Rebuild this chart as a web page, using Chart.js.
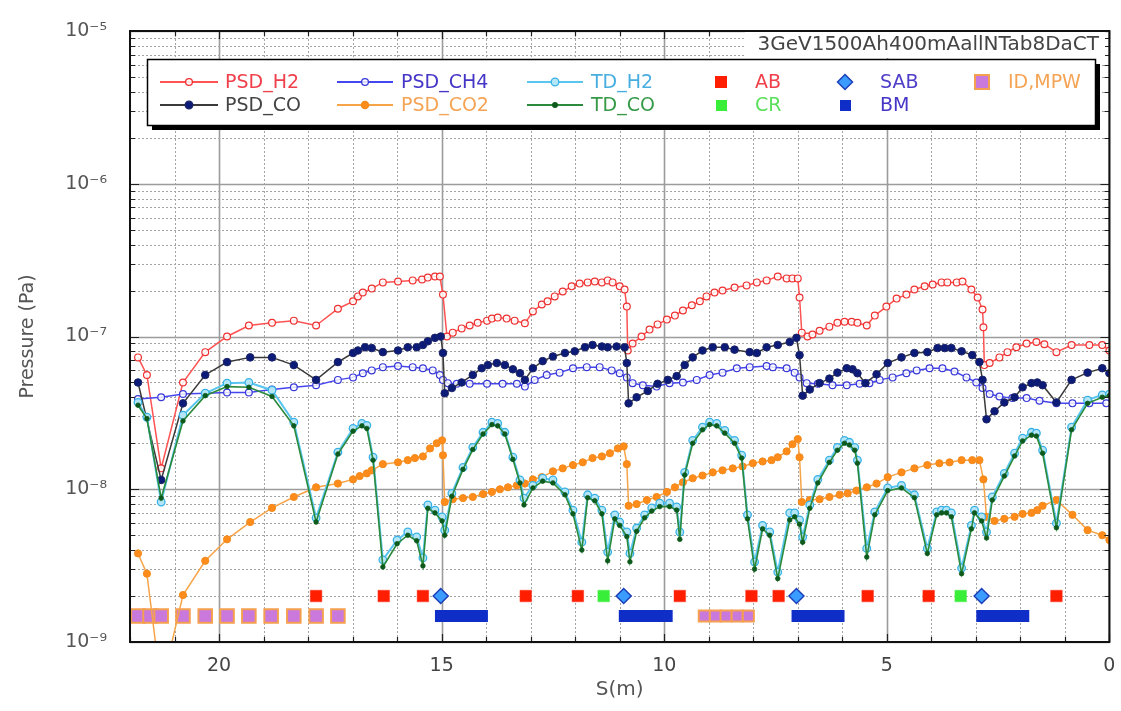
<!DOCTYPE html>
<html><head><meta charset="utf-8">
<script src="https://cdn.jsdelivr.net/npm/chart.js@4.4.0/dist/chart.umd.min.js"></script>
<style>html,body{margin:0;padding:0;background:#fff}#wrap{width:1121px;height:711px;position:relative}</style>
</head><body><div id="wrap"><canvas id="c" width="1121" height="711"></canvas></div>
<script>
// ---------------- DATA ----------------
const chartTitle = '3GeV1500Ah400mAallNTab8DaCT';
const xTickValues = [0, 5, 10, 15, 20];
const xTickLabels = ['0', '5', '10', '15', '20'];
const yTickValues = [1e-9, 1e-8, 1e-7, 1e-6, 1e-5];
const yTickLabels = ['10\u207B\u2079', '10\u207B\u2078', '10\u207B\u2077', '10\u207B\u2076', '10\u207B\u2075'];

const h2S = [21.82,21.62,21.30,20.81,20.31,19.82,19.33,18.81,18.32,17.82,17.33,16.99,16.88,16.77,16.57,16.32,15.98,15.65,15.44,15.31,15.15,15.04,14.97,14.88,14.75,14.55,14.37,14.19,13.98,13.87,13.74,13.54,13.36,13.13,12.95,12.75,12.62,12.46,12.28,12.08,11.90,11.72,11.56,11.40,11.27,11.16,11.00,10.89,10.84,10.82,10.71,10.51,10.33,10.15,9.94,9.76,9.58,9.38,9.20,9.05,8.87,8.69,8.42,8.15,7.92,7.70,7.45,7.25,7.12,7.00,6.96,6.91,6.78,6.67,6.51,6.29,6.11,5.95,5.79,5.66,5.45,5.27,5.01,4.78,4.56,4.38,4.15,3.97,3.77,3.64,3.43,3.30,3.10,2.96,2.85,2.83,2.81,2.69,2.47,2.29,2.09,1.86,1.64,1.46,1.19,0.85,0.45,0.16,0.0];
const h2P = [7.3e-8,5.6e-8,1.37e-8,5.0e-8,7.9e-8,1.0e-7,1.18e-7,1.23e-7,1.27e-7,1.18e-7,1.52e-7,1.70e-7,1.83e-7,1.94e-7,2.06e-7,2.26e-7,2.29e-7,2.33e-7,2.36e-7,2.43e-7,2.47e-7,2.47e-7,1.88e-7,1.0e-7,1.06e-7,1.13e-7,1.18e-7,1.23e-7,1.27e-7,1.31e-7,1.33e-7,1.31e-7,1.27e-7,1.22e-7,1.46e-7,1.62e-7,1.70e-7,1.83e-7,1.97e-7,2.13e-7,2.22e-7,2.26e-7,2.29e-7,2.26e-7,2.33e-7,2.26e-7,2.13e-7,2.03e-7,1.57e-7,8.1e-8,9.0e-8,1.0e-7,1.11e-7,1.20e-7,1.29e-7,1.37e-7,1.48e-7,1.60e-7,1.70e-7,1.83e-7,1.94e-7,2.00e-7,2.09e-7,2.16e-7,2.26e-7,2.33e-7,2.47e-7,2.40e-7,2.40e-7,2.40e-7,1.80e-7,1.06e-7,1.0e-7,1.03e-7,1.09e-7,1.16e-7,1.23e-7,1.25e-7,1.25e-7,1.23e-7,1.18e-7,1.37e-7,1.57e-7,1.77e-7,1.88e-7,2.03e-7,2.13e-7,2.19e-7,2.26e-7,2.26e-7,2.26e-7,2.29e-7,2.03e-7,1.80e-7,1.50e-7,1.15e-7,6.5e-8,6.7e-8,7.3e-8,7.9e-8,8.5e-8,9.0e-8,9.2e-8,8.9e-8,7.9e-8,8.8e-8,8.8e-8,8.8e-8,8.1e-8];

const coS = [21.82,21.30,20.81,20.31,19.82,19.30,18.81,18.32,17.82,17.33,16.99,16.88,16.72,16.57,16.32,15.98,15.76,15.56,15.42,15.31,15.15,15.02,14.97,14.93,14.77,14.55,14.30,14.10,13.96,13.76,13.58,13.40,13.24,13.13,12.95,12.73,12.50,12.23,12.01,11.78,11.61,11.40,11.27,11.07,10.89,10.84,10.80,10.62,10.37,10.15,9.92,9.72,9.54,9.36,9.14,8.91,8.64,8.42,8.08,7.92,7.70,7.45,7.18,7.03,6.96,6.89,6.73,6.51,6.29,6.11,5.90,5.77,5.66,5.48,5.23,4.98,4.67,4.38,4.09,3.86,3.70,3.55,3.32,3.08,2.92,2.85,2.76,2.58,2.36,2.13,1.95,1.75,1.62,1.50,1.19,0.85,0.49,0.16,0.0];
const coP = [5.0e-8,1.15e-8,3.65e-8,5.6e-8,6.8e-8,7.3e-8,7.3e-8,6.5e-8,5.2e-8,6.8e-8,7.8e-8,8.1e-8,8.5e-8,8.4e-8,7.9e-8,8.1e-8,8.5e-8,8.5e-8,8.8e-8,9.3e-8,9.8e-8,1.0e-7,7.8e-8,4.25e-8,4.6e-8,5.0e-8,5.6e-8,6.2e-8,6.5e-8,6.7e-8,6.5e-8,6.1e-8,5.75e-8,5.2e-8,6.2e-8,6.9e-8,7.4e-8,7.8e-8,8.0e-8,8.5e-8,8.8e-8,8.6e-8,8.5e-8,8.6e-8,8.5e-8,6.7e-8,3.65e-8,4.0e-8,4.4e-8,4.9e-8,5.2e-8,5.5e-8,6.5e-8,7.3e-8,8.1e-8,8.5e-8,8.5e-8,8.2e-8,7.9e-8,7.8e-8,8.5e-8,8.8e-8,9.2e-8,9.8e-8,7.55e-8,4.1e-8,4.5e-8,4.95e-8,5.3e-8,5.8e-8,6.2e-8,6.1e-8,5.75e-8,4.95e-8,5.65e-8,6.7e-8,7.3e-8,7.8e-8,7.9e-8,8.4e-8,8.4e-8,8.4e-8,8.0e-8,7.55e-8,6.8e-8,5.2e-8,2.87e-8,3.24e-8,3.7e-8,4.0e-8,4.65e-8,4.95e-8,5.0e-8,4.8e-8,3.7e-8,5.2e-8,5.8e-8,6.2e-8,5.75e-8];

const ch4S = [21.82,21.30,20.81,20.31,19.82,19.33,18.81,18.32,17.82,17.33,16.99,16.77,16.57,16.32,15.98,15.65,15.42,15.20,15.04,14.97,14.86,14.66,14.37,13.98,13.63,13.31,13.13,12.91,12.64,12.35,12.05,11.74,11.45,11.18,11.00,10.84,10.71,10.48,10.17,9.88,9.58,9.27,8.98,8.69,8.37,8.08,7.70,7.56,7.25,7.07,6.96,6.80,6.55,6.22,5.90,5.61,5.39,5.16,4.87,4.56,4.33,4.04,3.75,3.48,3.21,2.99,2.85,2.69,2.47,2.18,1.86,1.57,1.19,0.83,0.45,0.07];
const ch4P = [3.9e-8,4.0e-8,4.2e-8,4.25e-8,4.3e-8,4.3e-8,4.5e-8,4.65e-8,4.8e-8,5.2e-8,5.4e-8,5.75e-8,6.0e-8,6.3e-8,6.4e-8,6.3e-8,6.2e-8,6.0e-8,5.6e-8,5.2e-8,4.95e-8,4.9e-8,4.9e-8,4.9e-8,4.9e-8,4.9e-8,4.7e-8,5.2e-8,5.6e-8,5.8e-8,6.2e-8,6.3e-8,6.3e-8,6.0e-8,5.75e-8,5.4e-8,4.95e-8,4.8e-8,4.7e-8,4.95e-8,5.0e-8,5.2e-8,5.6e-8,5.8e-8,6.2e-8,6.3e-8,6.4e-8,6.3e-8,6.2e-8,5.8e-8,5.4e-8,4.95e-8,4.9e-8,4.8e-8,4.8e-8,4.9e-8,4.95e-8,5.2e-8,5.4e-8,5.75e-8,6.0e-8,6.2e-8,6.2e-8,5.9e-8,5.4e-8,5.0e-8,4.6e-8,4.2e-8,4.05e-8,3.95e-8,3.95e-8,3.8e-8,3.65e-8,3.65e-8,3.65e-8,3.65e-8];

const co2S = [21.82,21.62,21.30,20.81,20.31,19.82,19.30,18.81,18.32,17.82,17.33,16.99,16.84,16.68,16.57,16.32,15.98,15.76,15.60,15.42,15.26,15.11,14.99,14.97,14.93,14.75,14.52,14.30,14.07,13.87,13.69,13.51,13.31,13.13,12.95,12.75,12.50,12.28,12.05,11.83,11.61,11.40,11.22,11.04,10.91,10.84,10.80,10.62,10.39,10.17,9.94,9.76,9.58,9.36,9.14,8.91,8.69,8.46,8.24,8.01,7.79,7.59,7.45,7.25,7.12,7.00,6.96,6.91,6.73,6.51,6.29,6.06,5.88,5.68,5.45,5.23,4.98,4.67,4.38,4.09,3.82,3.59,3.32,3.08,2.92,2.83,2.76,2.58,2.36,2.13,1.95,1.75,1.62,1.50,1.19,0.83,0.49,0.16,0.0];
const co2P = [3.8e-9,2.8e-9,5e-10,2.03e-9,3.4e-9,4.7e-9,6.1e-9,7.55e-9,8.9e-9,1.03e-8,1.09e-8,1.16e-8,1.22e-8,1.27e-8,1.33e-8,1.46e-8,1.50e-8,1.55e-8,1.6e-8,1.64e-8,1.85e-8,2.0e-8,2.09e-8,1.67e-8,8.25e-9,8.6e-9,8.75e-9,8.9e-9,9.3e-9,9.6e-9,1.0e-8,1.03e-8,1.06e-8,1.09e-8,1.16e-8,1.2e-8,1.31e-8,1.37e-8,1.44e-8,1.50e-8,1.6e-8,1.64e-8,1.72e-8,1.85e-8,1.91e-8,1.46e-8,7.8e-9,8.0e-9,8.5e-9,8.9e-9,9.6e-9,1.03e-8,1.11e-8,1.18e-8,1.23e-8,1.29e-8,1.33e-8,1.37e-8,1.41e-8,1.48e-8,1.52e-8,1.55e-8,1.62e-8,1.77e-8,1.97e-8,2.13e-8,1.62e-8,8.25e-9,8.5e-9,8.6e-9,8.9e-9,9.2e-9,9.4e-9,9.8e-9,1.03e-8,1.09e-8,1.2e-8,1.29e-8,1.37e-8,1.44e-8,1.48e-8,1.50e-8,1.55e-8,1.55e-8,1.55e-8,1.16e-8,6.6e-9,6.2e-9,6.4e-9,6.6e-9,6.9e-9,7.0e-9,7.3e-9,7.8e-9,8.5e-9,6.8e-9,5.4e-9,5.0e-9,4.65e-9];

const tdS = [21.82,21.62,21.30,20.81,20.31,19.82,19.33,18.81,18.32,17.82,17.33,16.99,16.79,16.68,16.54,16.32,16.00,15.76,15.56,15.42,15.31,15.15,14.99,14.93,14.77,14.52,14.30,14.07,13.87,13.74,13.58,13.40,13.24,13.15,12.95,12.73,12.50,12.23,12.05,11.85,11.72,11.56,11.40,11.27,11.11,11.00,10.84,10.77,10.62,10.44,10.28,10.10,9.88,9.72,9.65,9.54,9.36,9.14,8.98,8.82,8.64,8.42,8.26,8.13,7.97,7.79,7.63,7.45,7.18,7.07,6.96,6.89,6.73,6.55,6.29,6.11,5.95,5.84,5.72,5.66,5.45,5.27,4.98,4.67,4.38,4.09,3.88,3.77,3.66,3.55,3.32,3.10,3.03,2.87,2.76,2.63,2.36,2.13,1.95,1.75,1.64,1.50,1.19,0.85,0.49,0.16,0.0];
const tdH2P = [3.7e-8,2.96e-8,8.25e-9,3.05e-8,4.25e-8,4.95e-8,5.0e-8,4.45e-8,2.75e-8,6.5e-9,1.75e-8,2.5e-8,2.7e-8,2.62e-8,1.62e-8,3.45e-9,4.65e-9,5.25e-9,4.87e-9,3.55e-9,7.9e-9,7.3e-9,6.58e-9,5.4e-9,9.4e-9,1.39e-8,1.88e-8,2.36e-8,2.75e-8,2.7e-8,2.36e-8,1.62e-8,1.15e-8,8.75e-9,1.06e-8,1.18e-8,1.15e-8,9.6e-9,7.3e-9,4.5e-9,9.2e-9,8.75e-9,7.3e-9,3.88e-9,6.8e-9,6.1e-9,5.25e-9,3.8e-9,5.57e-9,6.8e-9,7.55e-9,8.1e-9,8.1e-9,7.65e-9,5.25e-9,1.29e-8,2.09e-8,2.55e-8,2.75e-8,2.7e-8,2.43e-8,2.09e-8,1.67e-8,6.8e-9,3.34e-9,5.8e-9,5.25e-9,2.87e-9,7.0e-9,7.0e-9,6.3e-9,4.87e-9,7.9e-9,1.16e-8,1.55e-8,1.88e-8,2.09e-8,2.03e-8,1.88e-8,1.55e-8,4.1e-9,7.1e-9,1.02e-8,1.06e-8,9.2e-9,4.1e-9,7.1e-9,7.3e-9,7.3e-9,7.0e-9,3.05e-9,5.8e-9,7.3e-9,6.58e-9,5.25e-9,8.9e-9,1.27e-8,1.72e-8,2.16e-8,2.36e-8,2.33e-8,1.8e-8,6.0e-9,2.55e-8,3.83e-8,4.15e-8,4.19e-8];
const tdCOP = [3.55e-8,2.9e-8,8.75e-9,2.8e-8,4.1e-8,4.7e-8,4.65e-8,4.05e-8,2.6e-8,6.1e-9,1.7e-8,2.4e-8,2.6e-8,2.5e-8,1.55e-8,3.1e-9,4.4e-9,5.0e-9,4.6e-9,3.15e-9,7.5e-9,7.0e-9,6.2e-9,5.0e-9,9.0e-9,1.35e-8,1.82e-8,2.3e-8,2.65e-8,2.6e-8,2.3e-8,1.57e-8,1.1e-8,7.9e-9,1.02e-8,1.13e-8,1.1e-8,9.2e-9,6.9e-9,4.0e-9,8.8e-9,8.4e-9,6.9e-9,3.4e-9,6.4e-9,5.8e-9,4.9e-9,3.35e-9,5.3e-9,6.5e-9,7.2e-9,7.7e-9,7.7e-9,7.3e-9,4.7e-9,1.24e-8,2.0e-8,2.45e-8,2.65e-8,2.6e-8,2.33e-8,2.0e-8,1.6e-8,6.4e-9,3.0e-9,5.5e-9,5.0e-9,2.6e-9,6.3e-9,6.6e-9,5.9e-9,4.5e-9,7.5e-9,1.1e-8,1.5e-8,1.8e-8,2.0e-8,1.95e-8,1.8e-8,1.48e-8,3.6e-9,6.8e-9,9.8e-9,1.02e-8,8.8e-9,3.8e-9,6.8e-9,7.0e-9,7.0e-9,6.6e-9,2.8e-9,5.5e-9,7.0e-9,6.2e-9,4.8e-9,8.5e-9,1.22e-8,1.65e-8,2.07e-8,2.26e-8,2.23e-8,1.72e-8,5.6e-9,2.45e-8,3.65e-8,4.0e-8,4.1e-8];

const abS = [17.82,16.30,15.42,13.11,11.94,9.65,8.04,7.43,5.43,4.06,1.19];
const abP = [2e-9,2e-9,2e-9,2e-9,2e-9,2e-9,2e-9,2e-9,2e-9,2e-9,2e-9];
const crS = [11.36, 3.34];
const crP = [2e-9, 2e-9];
const sabS = [15.02, 10.91, 7.03, 2.87];
const sabP = [2e-9, 2e-9, 2e-9, 2e-9];
const bmStart = [15.15, 11.02, 7.14, 2.99];
const bmEnd = [13.96, 9.81, 5.95, 1.80];
const bmP = 1.48e-9;
const idS = [21.82,21.55,21.30,20.81,20.31,19.82,19.33,18.83,18.32,17.82,17.33,9.10,8.85,8.61,8.36,8.11];
const idP = [1.48e-9,1.48e-9,1.48e-9,1.48e-9,1.48e-9,1.48e-9,1.48e-9,1.48e-9,1.48e-9,1.48e-9,1.48e-9,1.48e-9,1.48e-9,1.48e-9,1.48e-9,1.48e-9];

// ---------------- BUILD ----------------
const FONT = "'DejaVu Sans', sans-serif";
const pts = (xs, ys) => xs.map((x, i) => ({x: x, y: ys[i]}));
const bmData = [];
bmStart.forEach((s, i) => { bmData.push({x: s, y: bmP}, {x: bmEnd[i], y: bmP}, {x: bmEnd[i], y: null}); });

const S = {
  h2:  {line:'#ff5252', pt:'#ee3030', fill:'rgba(255,255,255,0.85)', text:'#f0404c'},
  co:  {line:'#3a3a3a', pt:'#1a2466', fill:'#0c1a78', text:'#444444'},
  ch4: {line:'#4646ee', pt:'#3838d8', fill:'rgba(255,255,255,0.8)', text:'#4536c8'},
  co2: {line:'#f7a448', pt:'#f28a1c', fill:'#ff8c1a', text:'#f5a455'},
  tdh2:{line:'#58c6ee', pt:'#38b2e6', fill:'#b4e6f8', text:'#48aee0'},
  tdco:{line:'#2b8a3c', pt:'#0d5a1c', fill:'#0d5a1c', text:'#379a48'}
};

const datasets = [
  {label:'TD_CO', data:pts(tdS, tdCOP), borderColor:S.tdco.line, borderWidth:1.6, pointRadius:2.3, pointBackgroundColor:S.tdco.fill, pointBorderColor:S.tdco.pt, pointBorderWidth:0.8, order:1},
  {label:'TD_H2', data:pts(tdS, tdH2P), borderColor:S.tdh2.line, borderWidth:2, pointRadius:3.8, pointBackgroundColor:S.tdh2.fill, pointBorderColor:S.tdh2.pt, pointBorderWidth:1.3, order:2},
  {label:'PSD_CO', data:pts(coS, coP), borderColor:S.co.line, borderWidth:1.5, pointRadius:3.8, pointBackgroundColor:S.co.fill, pointBorderColor:S.co.pt, pointBorderWidth:1, order:3},
  {label:'PSD_CH4', data:pts(ch4S, ch4P), borderColor:S.ch4.line, borderWidth:1.5, pointRadius:3.4, pointBackgroundColor:S.ch4.fill, pointBorderColor:S.ch4.pt, pointBorderWidth:1.2, order:4},
  {label:'PSD_CO2', data:pts(co2S, co2P), borderColor:S.co2.line, borderWidth:1.5, pointRadius:3.6, pointBackgroundColor:S.co2.fill, pointBorderColor:S.co2.pt, pointBorderWidth:1, order:5},
  {label:'PSD_H2', data:pts(h2S, h2P), borderColor:S.h2.line, borderWidth:1.5, pointRadius:3.4, pointBackgroundColor:S.h2.fill, pointBorderColor:S.h2.pt, pointBorderWidth:1.2, order:6},
  {label:'SAB', data:pts(sabS, sabP), showLine:false, pointStyle:'rectRot', pointRadius:7.5, pointBackgroundColor:'#3a9cff', pointBorderColor:'#1c3fb8', pointBorderWidth:1.5, order:7},
  {label:'AB', data:pts(abS, abP), showLine:false, pointStyle:'rect', pointRadius:8.2, pointBackgroundColor:'#ff1e00', pointBorderColor:'#ff3a20', pointBorderWidth:0.5, order:8},
  {label:'CR', data:pts(crS, crP), showLine:false, pointStyle:'rect', pointRadius:8.2, pointBackgroundColor:'#38ee38', pointBorderColor:'#50f050', pointBorderWidth:0.5, order:9},
  {label:'BM', data:bmData, spanGaps:false, borderColor:'#0f2ec8', borderWidth:12, borderCapStyle:'butt', pointRadius:0, order:10},
  {label:'ID,MPW', data:pts(idS, idP), showLine:false, pointStyle:'rect',
    pointRadius: c => (c.raw && c.raw.x > 12 ? 9.6 : 7.8),
    pointBackgroundColor:'#c978dc', pointBorderColor:'#f5a050', pointBorderWidth:2, order:11}
];

// ---------------- PLUGINS ----------------
const decadeList = yTickValues;
function xGridVals(){ const a=[]; for(let v=0; v<=22; v++) a.push(v); return a; }
function yGridVals(){ const a=[]; for(let k=0;k<decadeList.length-1;k++){ for(let m=1;m<=9;m++) a.push({v:m*decadeList[k], major:m===1}); } a.push({v:decadeList[decadeList.length-1], major:true}); return a; }

const decor = {
  id:'decor',
  beforeDatasetsDraw(chart){
    const {ctx, chartArea:a, scales:{x, y}} = chart;
    ctx.save();
    xGridVals().forEach(v => {
      const major = v % 5 === 0;
      const px = Math.round(x.getPixelForValue(v)) + 0.5;
      ctx.beginPath();
      ctx.setLineDash(major ? [] : [2, 2]);
      ctx.strokeStyle = major ? '#9c9c9c' : '#a4a4a4';
      ctx.lineWidth = major ? 1.6 : 1;
      ctx.moveTo(px, a.top); ctx.lineTo(px, a.bottom); ctx.stroke();
    });
    yGridVals().forEach(o => {
      const py = Math.round(y.getPixelForValue(o.v)) + 0.5;
      ctx.beginPath();
      ctx.setLineDash(o.major ? [] : [2, 2]);
      ctx.strokeStyle = o.major ? '#9c9c9c' : '#a4a4a4';
      ctx.lineWidth = o.major ? 1.6 : 1;
      ctx.moveTo(a.left, py); ctx.lineTo(a.right, py); ctx.stroke();
    });
    ctx.restore();
  },
  afterDatasetsDraw(chart){
    const {ctx, chartArea:a, scales:{x, y}} = chart;
    ctx.save();
    ctx.setLineDash([]);
    ctx.strokeStyle = '#222'; ctx.lineWidth = 1.2;
    xGridVals().forEach(v => {
      const px = Math.round(x.getPixelForValue(v)) + 0.5;
      const len = v % 5 === 0 ? 8 : 5;
      ctx.beginPath();
      ctx.moveTo(px, a.bottom); ctx.lineTo(px, a.bottom - len);
      ctx.moveTo(px, a.top); ctx.lineTo(px, a.top + len);
      ctx.stroke();
    });
    yGridVals().forEach(o => {
      const py = Math.round(y.getPixelForValue(o.v)) + 0.5;
      const len = o.major ? 9 : 5;
      ctx.beginPath();
      ctx.moveTo(a.left, py); ctx.lineTo(a.left + len, py);
      ctx.moveTo(a.right, py); ctx.lineTo(a.right - len, py);
      ctx.stroke();
    });
    // title box
    ctx.fillStyle = '#fff';
    ctx.fillRect(745, a.top + 1, 360, 26);
    ctx.font = '20px ' + FONT;
    ctx.fillStyle = '#444';
    ctx.textAlign = 'right'; ctx.textBaseline = 'middle';
    ctx.fillText(chartTitle, 1099, a.top + 14);
    // legend
    const L = {x:147, y:59, w:948, h:66};
    ctx.fillStyle = '#000'; ctx.fillRect(L.x + 5, L.y + 5, L.w, L.h);
    ctx.fillStyle = '#fff'; ctx.fillRect(L.x, L.y, L.w, L.h);
    ctx.strokeStyle = '#000'; ctx.lineWidth = 1.5; ctx.strokeRect(L.x + 0.5, L.y + 0.5, L.w, L.h);
    const rows = [82, 105];
    const lineCols = [[160, 218, 225], [337, 393, 401], [527, 583, 591]];
    const lineItems = [
      {c:0, r:0, t:'PSD_H2', s:S.h2, rad:3.4}, {c:0, r:1, t:'PSD_CO', s:S.co, rad:3.8},
      {c:1, r:0, t:'PSD_CH4', s:S.ch4, rad:3.4}, {c:1, r:1, t:'PSD_CO2', s:S.co2, rad:3.6},
      {c:2, r:0, t:'TD_H2', s:S.tdh2, rad:3.8}, {c:2, r:1, t:'TD_CO', s:S.tdco, rad:2.3}
    ];
    ctx.font = '19px ' + FONT; ctx.textAlign = 'left'; ctx.textBaseline = 'middle';
    lineItems.forEach(it => {
      const [x0, x1, tx] = lineCols[it.c]; const yy = rows[it.r];
      ctx.strokeStyle = it.s.line; ctx.lineWidth = 2;
      ctx.beginPath(); ctx.moveTo(x0, yy); ctx.lineTo(x1, yy); ctx.stroke();
      ctx.beginPath(); ctx.arc((x0 + x1) / 2, yy, it.rad, 0, Math.PI * 2);
      ctx.fillStyle = it.s.fill; ctx.fill();
      ctx.strokeStyle = it.s.pt; ctx.lineWidth = 1.3; ctx.stroke();
      ctx.fillStyle = it.s.text; ctx.fillText(it.t, tx, yy + 1);
    });
    const mk = [
      {r:0, t:'AB', tx:755, col:'#f0404c', draw:() => { ctx.fillStyle = '#ff1e00'; ctx.fillRect(715, rows[0] - 6, 12, 12); }},
      {r:1, t:'CR', tx:755, col:'#5ce05c', draw:() => { ctx.fillStyle = '#38ee38'; ctx.fillRect(716, rows[1] - 5, 11, 11); }},
      {r:0, t:'SAB', tx:880, col:'#4e3ec8', draw:() => { const cx = 845, cy = rows[0]; ctx.beginPath(); ctx.moveTo(cx, cy - 7.5); ctx.lineTo(cx + 7.5, cy); ctx.lineTo(cx, cy + 7.5); ctx.lineTo(cx - 7.5, cy); ctx.closePath(); ctx.fillStyle = '#3a9cff'; ctx.fill(); ctx.strokeStyle = '#1c3fb8'; ctx.lineWidth = 1.5; ctx.stroke(); }},
      {r:1, t:'BM', tx:880, col:'#4536c8', draw:() => { ctx.fillStyle = '#0f2ec8'; ctx.fillRect(840, rows[1] - 5, 11, 11); }},
      {r:0, t:'ID,MPW', tx:1008, col:'#f5a455', draw:() => { ctx.fillStyle = '#c978dc'; ctx.fillRect(975, rows[0] - 7, 14, 14); ctx.strokeStyle = '#f5a050'; ctx.lineWidth = 2; ctx.strokeRect(975, rows[0] - 7, 14, 14); }}
    ];
    mk.forEach(m => { m.draw(); ctx.fillStyle = m.col; ctx.font = '19px ' + FONT; ctx.textAlign = 'left'; ctx.textBaseline = 'middle'; ctx.fillText(m.t, m.tx, rows[m.r] + 1); });
    ctx.restore();
  },
  afterDraw(chart){
    const {ctx, chartArea:a} = chart;
    ctx.save();
    ctx.strokeStyle = '#111'; ctx.lineWidth = 2; ctx.setLineDash([]);
    ctx.strokeRect(a.left, a.top, a.right - a.left, a.bottom - a.top);
    ctx.restore();
  }
};

new Chart(document.getElementById('c'), {
  type: 'line',
  data: { datasets: datasets },
  options: {
    responsive: false, animation: false, devicePixelRatio: 1, events: [],
    layout: { padding: { top: 31, right: 11, left: 0, bottom: 0 } },
    plugins: { legend: { display: false }, tooltip: { enabled: false } },
    elements: { line: { tension: 0 } },
    scales: {
      x: {
        type: 'linear', reverse: true, min: 0, max: 22,
        afterBuildTicks: s => { s.ticks = xTickValues.map(v => ({value: v})); },
        afterFit: s => { s.height = 69; },
        grid: { display: false }, border: { display: false },
        ticks: { autoSkip: false, maxRotation: 0, padding: 5, color: '#444', font: { family: FONT, size: 19 },
          callback: (v, i) => xTickLabels[i] },
        title: { display: true, text: 'S(m)', color: '#555', font: { family: FONT, size: 20 }, padding: { top: 0, bottom: 9 } }
      },
      y: {
        type: 'logarithmic', min: 1e-9, max: 1e-5,
        afterBuildTicks: s => { s.ticks = yTickValues.map(v => ({value: v})); },
        afterFit: s => { s.width = 130; },
        grid: { display: false }, border: { display: false },
        ticks: { autoSkip: false, padding: 15, color: '#555', font: { family: FONT, size: 19 },
          callback: (v, i) => yTickLabels[i] },
        title: { display: true, text: 'Pressure (Pa)', color: '#555', font: { family: FONT, size: 19 }, padding: { top: 17, bottom: 0 } }
      }
    }
  },
  plugins: [decor]
});
</script>
</body></html>
